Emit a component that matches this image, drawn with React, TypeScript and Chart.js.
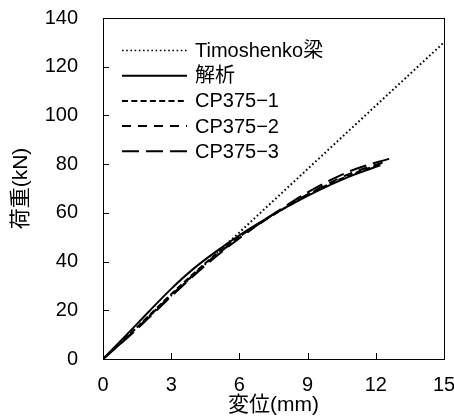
import React, { useEffect, useRef } from "react";
import { Chart, registerables } from "chart.js";
Chart.register(...registerables);

const FONT = "'Liberation Sans', 'Noto Sans CJK JP', sans-serif";

const xTicks = [0, 3, 6, 9, 12, 15];
const yTicks = [0, 20, 40, 60, 80, 100, 120, 140];

const seriesLabels = ["Timoshenko梁", "解析", "CP375−1", "CP375−2", "CP375−3"];

const timoX = [0, 15];
const timoY = [0, 130];

const anaX = [0, 1, 2, 3, 4, 5, 6, 7, 8, 9, 10, 11, 12.2];
const anaY = [0, 9.6, 19.3, 28.8, 37.2, 44.3, 50.8, 56.6, 62, 67, 71.5, 75.5, 79.5];

const cp1X = [0, 1, 2, 3, 4, 5, 6, 7, 8, 9, 10, 11, 12.2];
const cp1Y = [0, 8.6, 17.6, 26.6, 35.2, 43.2, 50.2, 56.4, 62, 67.4, 72, 76, 80];

const cp2X = [0, 1, 2, 3, 4, 5, 6, 7, 8, 9, 10, 11, 12.3];
const cp2Y = [0, 8.3, 17.2, 26.2, 34.8, 42.8, 49.8, 56.2, 62.2, 67.6, 72.4, 76.6, 80.6];

const cp3X = [0, 1, 2, 3, 4, 5, 6, 7, 8, 9, 10, 11, 12.7];
const cp3Y = [0, 8.1, 16.8, 25.7, 34.3, 42.3, 49.6, 56.4, 62.6, 68.4, 73.4, 77.6, 82.5];

const seriesX = [timoX, anaX, cp1X, cp2X, cp3X];
const seriesY = [timoY, anaY, cp1Y, cp2Y, cp3Y];
const dashes: number[][] = [[1.6, 2.6], [], [6, 3.3], [9, 7], [17, 7]];
const widths = [2, 2, 2, 2, 2];

const framePlugin = {
  id: "frameTicks",
  afterDraw(chart: any) {
    const ctx = chart.ctx;
    const { left, right, top, bottom } = chart.chartArea;
    const xs = chart.scales.x;
    const ys = chart.scales.y;
    ctx.save();
    ctx.strokeStyle = "#000";
    ctx.lineWidth = 1;
    ctx.beginPath();
    xs.ticks.forEach((t: any) => {
      const px = Math.round(xs.getPixelForValue(t.value)) + 0.5;
      ctx.moveTo(px, bottom);
      ctx.lineTo(px, bottom - 6);
    });
    ys.ticks.forEach((t: any) => {
      const py = Math.round(ys.getPixelForValue(t.value)) + 0.5;
      ctx.moveTo(left, py);
      ctx.lineTo(left + 6, py);
    });
    ctx.stroke();
    ctx.strokeRect(Math.round(left) + 0.5, Math.round(top) + 0.5, Math.round(right - left), Math.round(bottom - top));
    ctx.restore();
  },
};

const legendPlugin = {
  id: "innerLegend",
  afterDatasetsDraw(chart: any) {
    const ctx = chart.ctx;
    const { left, top } = chart.chartArea;
    ctx.save();
    ctx.font = `20px ${FONT}`;
    ctx.fillStyle = "#000";
    ctx.textBaseline = "middle";
    chart.data.datasets.forEach((ds: any, i: number) => {
      const y = top + 32.5 + i * 25.2;
      ctx.strokeStyle = "#000";
      ctx.lineWidth = i === 0 ? 1.5 : ds.borderWidth;
      ctx.setLineDash(ds.borderDash || []);
      ctx.beginPath();
      ctx.moveTo(left + 19, y);
      ctx.lineTo(left + 84, y);
      ctx.stroke();
      ctx.setLineDash([]);
      ctx.fillText(ds.label, left + 92, y + 1);
    });
    ctx.restore();
  },
};

export default function App() {
  const ref = useRef<HTMLCanvasElement>(null);
  useEffect(() => {
    if (!ref.current) return;
    const datasets = seriesLabels.map((label, i) => ({
      label,
      data: seriesX[i].map((x, j) => ({ x, y: seriesY[i][j] })),
      borderColor: "#000",
      backgroundColor: "#000",
      borderWidth: widths[i],
      borderDash: dashes[i],
      pointRadius: 0,
      fill: false,
      cubicInterpolationMode: "monotone" as const,
    }));
    const chart = new Chart(ref.current, {
      type: "line",
      data: { datasets },
      plugins: [framePlugin, legendPlugin],
      options: {
        animation: false,
        responsive: false,
        devicePixelRatio: 1,
        layout: { padding: { top: 18, right: 10, left: 0, bottom: 0 } },
        plugins: { legend: { display: false }, tooltip: { enabled: false } },
        scales: {
          x: {
            type: "linear",
            min: 0,
            max: 15,
            afterBuildTicks: (s: any) => {
              s.ticks = xTicks.map((v) => ({ value: v }));
            },
            afterFit: (s: any) => {
              s.height = 58;
              s.paddingLeft = 0;
              s.paddingRight = 0;
            },
            grid: { display: false, drawTicks: false },
            border: { display: false },
            ticks: { color: "#000", font: { family: FONT, size: 20 }, padding: 14, maxRotation: 0 },
            title: {
              display: true,
              text: "変位(mm)",
              color: "#000",
              font: { family: FONT, size: 21 },
              padding: { top: 0, bottom: -1 },
            },
          },
          y: {
            type: "linear",
            min: 0,
            max: 140,
            afterBuildTicks: (s: any) => {
              s.ticks = yTicks.map((v) => ({ value: v }));
            },
            afterFit: (s: any) => {
              s.width = 103;
              s.paddingTop = 0;
              s.paddingBottom = 0;
            },
            grid: { display: false, drawTicks: false },
            border: { display: false },
            ticks: { color: "#000", font: { family: FONT, size: 20 }, padding: 25 },
            title: {
              display: true,
              text: "荷重(kN)",
              color: "#000",
              font: { family: FONT, size: 21 },
              padding: { top: 9, bottom: 0 },
            },
          },
        },
      },
    });
    return () => chart.destroy();
  }, []);
  return (
    <div style={{ position: "absolute", left: 0, top: 0, width: 454, height: 417, background: "#fff" }}>
      <canvas ref={ref} width={454} height={417} />
    </div>
  );
}
